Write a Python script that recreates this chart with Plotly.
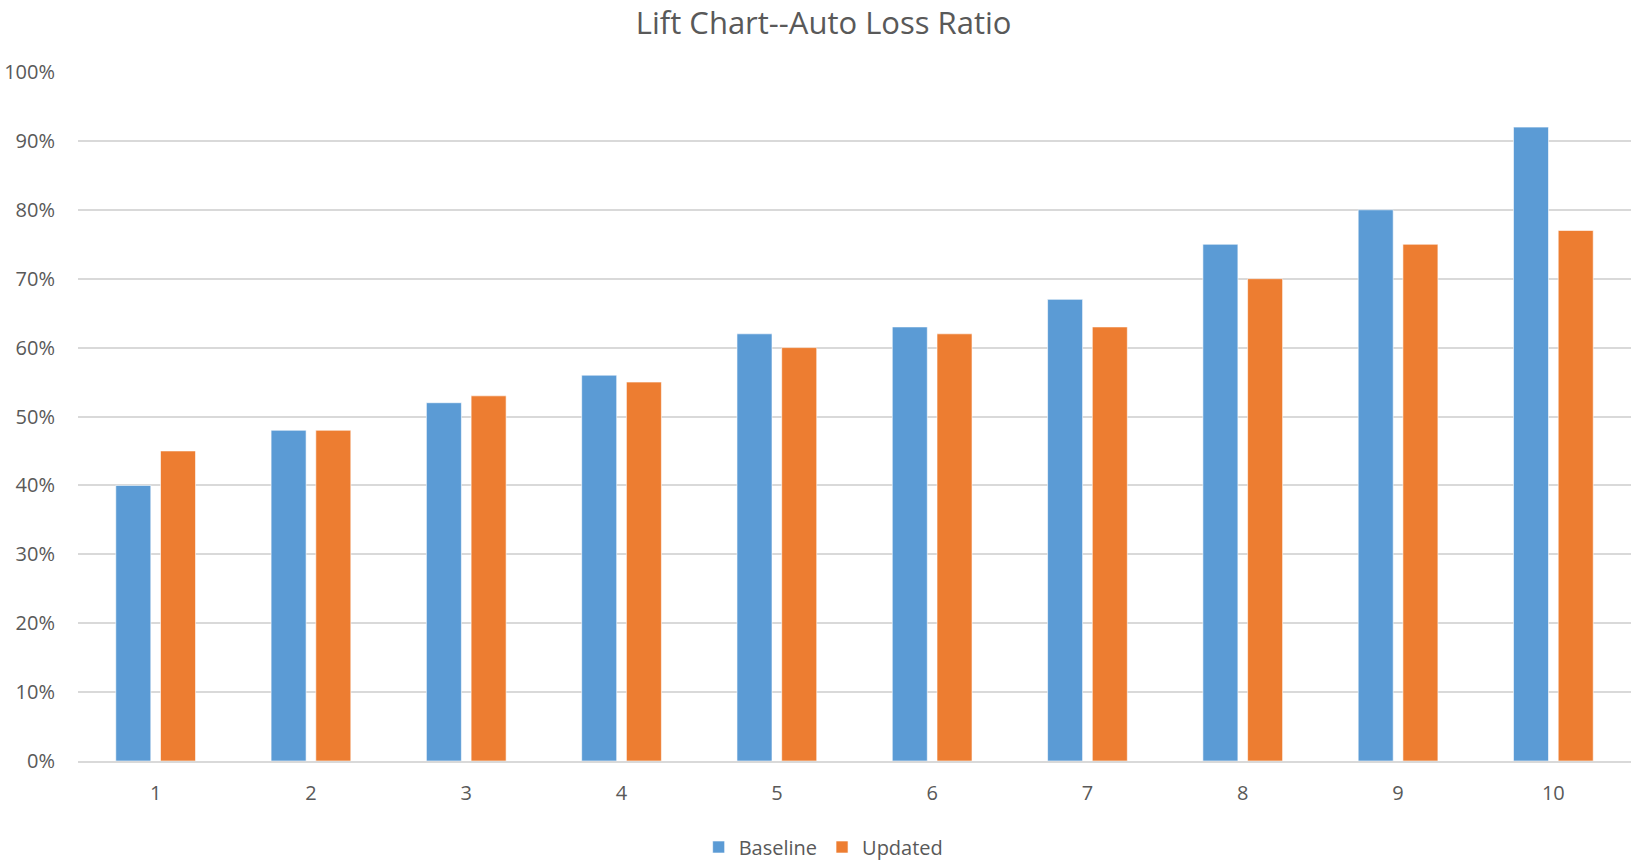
import plotly.graph_objects as go

# Decile buckets and loss ratios for each model
deciles = ["1", "2", "3", "4", "5", "6", "7", "8", "9", "10"]
baseline = [0.40, 0.48, 0.52, 0.56, 0.62, 0.63, 0.67, 0.75, 0.80, 0.92]
updated = [0.45, 0.48, 0.53, 0.55, 0.60, 0.62, 0.63, 0.70, 0.75, 0.77]

FONT = "Open Sans"
GREY = "#595959"
GRID = "#D9D9D9"

fig = go.Figure()
fig.add_trace(go.Bar(
    name="Baseline", x=deciles, y=baseline,
    marker=dict(color="#5B9BD5", line=dict(color="rgba(255,255,255,0.6)", width=1)),
))
fig.add_trace(go.Bar(
    name="Updated", x=deciles, y=updated,
    marker=dict(color="#ED7D31", line=dict(color="rgba(255,255,255,0.6)", width=1)),
))

fig.update_layout(
    width=1631, height=860,
    paper_bgcolor="white", plot_bgcolor="white",
    margin=dict(l=78, r=0, t=72, b=99),
    barmode="group", bargap=0.424, bargroupgap=0.217,
    font=dict(family=FONT, color=GREY, size=20),
    title=dict(
        text="Lift Chart--Auto Loss Ratio",
        x=0.505, xanchor="center", xref="container",
        y=1 - 23 / 860, yanchor="middle", yref="container",
        font=dict(family=FONT, size=31, color=GREY),
    ),
    legend=dict(
        orientation="h", xref="container", x=0.505, xanchor="center",
        yref="container", y=1 - 847 / 860, yanchor="middle",
        font=dict(size=20, color=GREY), itemwidth=30,
    ),
    xaxis=dict(
        showgrid=False, showline=True, linecolor=GRID, linewidth=2,
        ticks="outside", ticklen=13, tickcolor="rgba(0,0,0,0)",
        tickfont=dict(size=20, color=GREY),
    ),
    yaxis=dict(
        range=[0, 1], dtick=0.1, tickformat=".0%",
        showgrid=True, gridcolor=GRID, gridwidth=2,
        zeroline=False, showline=False,
        ticks="outside", ticklen=18, tickcolor="rgba(0,0,0,0)",
        tickfont=dict(size=20, color=GREY),
    ),
)

fig.write_html("out.html")
